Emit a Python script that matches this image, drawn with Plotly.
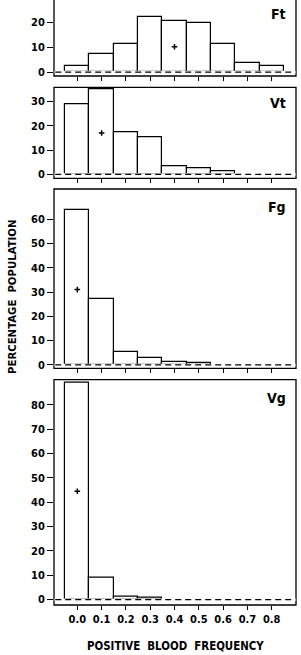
import plotly.graph_objects as go

# ---- data ----
bins = [0.0, 0.1, 0.2, 0.3, 0.4, 0.5, 0.6, 0.7, 0.8]
tick_labels = ["0.0", "0.1", "0.2", "0.3", "0.4", "0.5", "0.6", "0.7", "0.8"]

ft = [2.5, 7.2, 11.2, 22.3, 20.5, 20.0, 11.2, 3.8, 2.4]
vt = [28.8, 35.0, 17.3, 15.1, 3.3, 2.6, 1.1, 0, 0]
fg = [63.8, 27.0, 5.3, 2.7, 1.3, 0.8, 0, 0, 0]
vg = [89.1, 9.0, 1.3, 0.6, 0, 0, 0, 0, 0]

panel_names = ["Ft", "Vt", "Fg", "Vg"]
panel_values = [ft, vt, fg, vg]
mean_x = [0.4, 0.1, 0.0, 0.0]
mean_y = [10.2, 17.0, 31.0, 44.5]

y_ranges = [[-1.6, 29.1], [-1.6, 35.8], [-1.4, 72.4], [-2.2, 90.3]]
y_tick_max = [20, 30, 60, 80]

# ---- layout geometry (paper fractions) ----
W, H = 301, 655
ml, mr, mt, mb = 54, 5, 0, 50
plot_h = H - mt - mb
def pf(pix):
    return (plot_h - pix) / plot_h

domains = [[pf(76), 1.0], [pf(178.3), pf(87.3)], [pf(368.3), pf(189)], [0.0, pf(379.7)]]
frame_tops = [1.03, pf(87.3), pf(189), pf(379.7)]
label_y = [pf(14), pf(103), pf(207), pf(398)]

FONT = "Liberation Sans Narrow, DejaVu Sans Condensed, Arial Narrow, sans-serif"

fig = go.Figure()
shapes = []
annotations = []
layout = {}

for i, (name, vals) in enumerate(zip(panel_names, panel_values)):
    n = i + 1
    xa = "x" if n == 1 else f"x{n}"
    ya = "y" if n == 1 else f"y{n}"
    xs = [b for b, v in zip(bins, vals) if v > 0]
    ys = [v for v in vals if v > 0]
    fig.add_trace(go.Bar(
        x=xs, y=ys, width=0.1, xaxis=xa, yaxis=ya,
        marker=dict(color="white", line=dict(color="black", width=1.2)),
        showlegend=False, hoverinfo="skip"))
    fig.add_trace(go.Scatter(
        x=[mean_x[i]], y=[mean_y[i]], mode="markers", xaxis=xa, yaxis=ya,
        marker=dict(symbol="cross-thin", size=4, line=dict(color="black", width=1.5)),
        showlegend=False, hoverinfo="skip"))

    xkey = "xaxis" if n == 1 else f"xaxis{n}"
    ykey = "yaxis" if n == 1 else f"yaxis{n}"
    layout[xkey] = dict(
        domain=[0, 1], anchor=ya, range=[-0.096, 0.9],
        tickvals=bins, ticktext=tick_labels, showticklabels=(n == 4),
        ticks="outside", ticklen=4, tickwidth=1.3, tickcolor="black",
        showgrid=False, zeroline=False, showline=False,
        tickfont=dict(family=FONT, size=11, color="black", weight="bold"))
    layout[ykey] = dict(
        domain=domains[i], anchor=xa, range=y_ranges[i],
        tickvals=list(range(0, y_tick_max[i] + 1, 10)),
        ticks="outside", ticklen=6, tickwidth=1.3, tickcolor="black",
        showgrid=False, zeroline=False, showline=False,
        tickfont=dict(family=FONT, size=11, color="black", weight="bold"))

    # frame
    shapes.append(dict(type="rect", xref="paper", yref="paper",
                       x0=0, x1=1, y0=domains[i][0], y1=frame_tops[i],
                       line=dict(color="black", width=1.3), layer="above"))
    # hide bar bottoms, then dashed zero line
    shapes.append(dict(type="line", xref=f"{xa} domain", yref=ya,
                       x0=0.002, x1=0.998, y0=0, y1=0,
                       line=dict(color="white", width=2.5), layer="above"))
    shapes.append(dict(type="line", xref=f"{xa} domain", yref=ya,
                       x0=0.005, x1=0.995, y0=0, y1=0,
                       line=dict(color="black", width=1.2, dash="6px,4px"), layer="above"))
    annotations.append(dict(text=f"<b>{name}</b>", xref="paper", yref="paper",
                            x=0.967, y=label_y[i], xanchor="right", yanchor="middle",
                            showarrow=False,
                            font=dict(family=FONT, size=14, color="black")))

annotations.append(dict(text="<b>PERCENTAGE  POPULATION</b>", xref="paper", yref="paper",
                        x=(12 - ml) / (W - ml - mr), y=pf(297), textangle=-90,
                        xanchor="center", yanchor="middle", showarrow=False,
                        font=dict(family=FONT, size=11.3, color="black")))
annotations.append(dict(text="<b>POSITIVE  BLOOD  FREQUENCY</b>", xref="paper", yref="paper",
                        x=(175 - ml) / (W - ml - mr), y=pf(646),
                        xanchor="center", yanchor="middle", showarrow=False,
                        font=dict(family=FONT, size=11.4, color="black")))

fig.update_layout(
    width=W, height=H,
    margin=dict(l=ml, r=mr, t=mt, b=mb),
    paper_bgcolor="white", plot_bgcolor="white",
    bargap=0, shapes=shapes, annotations=annotations,
    **layout)

fig.write_html("out.html")
